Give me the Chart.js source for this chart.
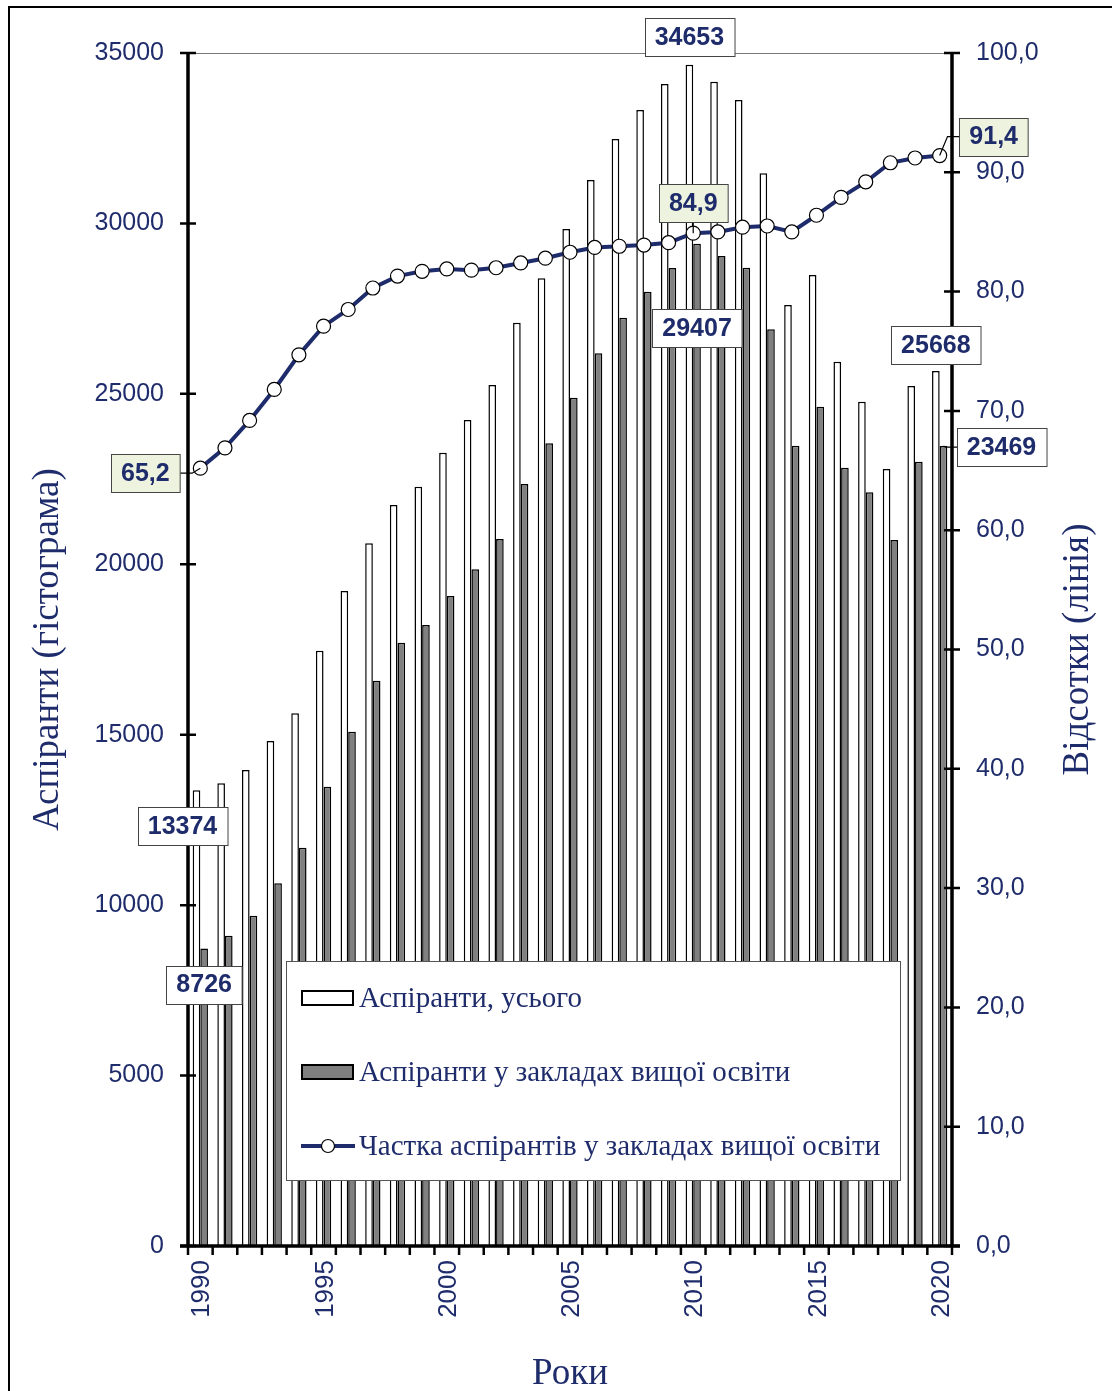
<!DOCTYPE html>
<html>
<head>
<meta charset="utf-8">
<script src="https://cdn.jsdelivr.net/npm/chart.js@4.4.0/dist/chart.umd.min.js"></script>
<style>
  html, body { margin: 0; padding: 0; background: #fff; }
  canvas { display: block; }
</style>
</head>
<body>
<canvas id="chart" width="1112" height="1391"></canvas>
<script>
// Аспіранти в Україні, 1990-2020
const years = [1990, 1991, 1992, 1993, 1994, 1995, 1996, 1997, 1998, 1999,
               2000, 2001, 2002, 2003, 2004, 2005, 2006, 2007, 2008, 2009,
               2010, 2011, 2012, 2013, 2014, 2015, 2016, 2017, 2018, 2019, 2020];

// усього (гістограма, білі стовпці)
const totalStudents = [13374, 13575, 13965, 14815, 15627, 17465, 19216, 20615, 21739, 22277,
                       23274, 24233, 25260, 27088, 28389, 29836, 31274, 32478, 33327, 34090,
                       34653, 34158, 33621, 31470, 27607, 28487, 25943, 24770, 22795, 25230, 25668];

// у закладах вищої освіти (сірі стовпці)
const heiStudents = [8726, 9104, 9690, 10641, 11686, 13475, 15088, 16584, 17700, 18219,
                     19069, 19852, 20741, 22355, 23549, 24887, 26189, 27234, 27997, 28692,
                     29407, 29044, 28701, 26894, 23479, 24624, 22833, 22111, 20712, 23009, 23469];

// частка, % (лінія)
const heiShare = [65.2, 66.9, 69.2, 71.8, 74.7, 77.1, 78.5, 80.3, 81.3, 81.7,
                  81.9, 81.8, 82.0, 82.4, 82.8, 83.3, 83.7, 83.8, 83.9, 84.1,
                  84.9, 85.0, 85.4, 85.5, 85.0, 86.4, 87.9, 89.2, 90.8, 91.2, 91.4];

const NAVY = '#1f2c6b';
const SANS = '"Liberation Sans", Arial, sans-serif';
const SERIF = '"Liberation Serif", "Times New Roman", serif';

// підписи значень: набір, індекс, зсув від точки, заливка
const callouts = [
  { ds: 0, i: 20, dx: 0, dy: -28, fill: '#ffffff' },
  { ds: 1, i: 20, dx: 0, dy: 84, fill: '#ffffff' },
  { ds: 0, i: 0, dx: -14, dy: 36, fill: '#ffffff' },
  { ds: 1, i: 0, dx: 0, dy: 36, fill: '#ffffff' },
  { ds: 0, i: 30, dx: 0, dy: -26, fill: '#ffffff' },
  { ds: 1, i: 30, dx: 58, dy: 1, fill: '#ffffff', leader: true },
  { ds: 2, i: 0, dx: -55, dy: 5, fill: '#eef3df', leader: true },
  { ds: 2, i: 20, dx: 0, dy: -30, fill: '#eef3df', leader: true },
  { ds: 2, i: 30, dx: 54, dy: -19, fill: '#eef3df', leader: true }
];

function fmt(ds, v) {
  return ds === 2 ? v.toFixed(1).replace('.', ',') : String(v);
}

const decorations = {
  id: 'decorations',
  beforeDraw(chart) {
    const ctx = chart.ctx;
    ctx.save();
    ctx.fillStyle = '#fff';
    ctx.fillRect(0, 0, chart.width, chart.height);
    // рамка
    ctx.strokeStyle = '#000';
    ctx.lineWidth = 2;
    ctx.beginPath();
    ctx.moveTo(9, chart.height + 5);
    ctx.lineTo(9, 7);
    ctx.lineTo(chart.width + 5, 7);
    ctx.stroke();
    // права назва осі
    const ca = chart.chartArea;
    ctx.translate(1078, (ca.top + ca.bottom) / 2);
    ctx.rotate(-Math.PI / 2);
    ctx.fillStyle = NAVY;
    ctx.font = '37px ' + SERIF;
    ctx.textAlign = 'center';
    ctx.textBaseline = 'middle';
    ctx.fillText('Відсотки (лінія)', 0, 0);
    ctx.restore();
  },
  beforeDatasetsDraw(chart) {
    const ctx = chart.ctx;
    const { left, right, top } = chart.chartArea;
    ctx.save();
    ctx.strokeStyle = '#777';
    ctx.lineWidth = 1;
    ctx.beginPath();
    ctx.moveTo(left, top + 0.5);
    ctx.lineTo(right, top + 0.5);
    ctx.stroke();
    ctx.restore();
  },
  afterDatasetsDraw(chart) {
    const ctx = chart.ctx;
    const { left, right, top, bottom } = chart.chartArea;
    const sy = chart.scales.y, sy1 = chart.scales.y1, sx = chart.scales.x;
    ctx.save();
    ctx.strokeStyle = '#000';
    ctx.lineCap = 'butt';
    ctx.lineWidth = 3.5;
    ctx.beginPath();
    ctx.moveTo(left, top); ctx.lineTo(left, bottom);
    ctx.moveTo(right, top); ctx.lineTo(right, bottom);
    ctx.moveTo(left - 8, bottom); ctx.lineTo(right + 8, bottom);
    ctx.stroke();
    ctx.lineWidth = 2.5;
    ctx.beginPath();
    sy.ticks.forEach(t => {
      const p = sy.getPixelForValue(t.value);
      ctx.moveTo(left - 8, p); ctx.lineTo(left + 8, p);
    });
    sy1.ticks.forEach(t => {
      const p = sy1.getPixelForValue(t.value);
      ctx.moveTo(right - 8, p); ctx.lineTo(right + 8, p);
    });
    const w = (sx.right - sx.left) / years.length;
    for (let k = 0; k <= years.length; k++) {
      const p = sx.left + k * w;
      ctx.moveTo(p, bottom); ctx.lineTo(p, bottom + 9);
    }
    ctx.stroke();

    // легенда
    const lx = 286, ly = 961, lw = 614, lh = 219;
    ctx.fillStyle = '#fff';
    ctx.fillRect(lx, ly, lw, lh);
    ctx.strokeStyle = '#555';
    ctx.lineWidth = 1;
    ctx.strokeRect(lx + 0.5, ly + 0.5, lw, lh);
    ctx.font = '29px ' + SERIF;
    ctx.textBaseline = 'middle';
    ctx.textAlign = 'left';
    chart.data.datasets.forEach((ds, k) => {
      const cy = ly + 37 + k * 74;
      if (ds.type === 'line') {
        ctx.strokeStyle = ds.borderColor;
        ctx.lineWidth = 4;
        ctx.beginPath();
        ctx.moveTo(301, cy); ctx.lineTo(355, cy);
        ctx.stroke();
        ctx.beginPath();
        ctx.arc(328, cy, 6.5, 0, Math.PI * 2);
        ctx.fillStyle = ds.pointBackgroundColor;
        ctx.fill();
        ctx.strokeStyle = ds.pointBorderColor;
        ctx.lineWidth = 1.2;
        ctx.stroke();
      } else {
        ctx.fillStyle = ds.backgroundColor;
        ctx.fillRect(302, cy - 7, 51, 14);
        ctx.strokeStyle = '#000';
        ctx.lineWidth = 2;
        ctx.strokeRect(302, cy - 7, 51, 14);
      }
      ctx.fillStyle = NAVY;
      ctx.fillText(ds.label, 359, cy + 1);
    });
    ctx.restore();
  },
  afterDraw(chart) {
    const ctx = chart.ctx;
    ctx.save();
    ctx.font = 'bold 25px ' + SANS;
    ctx.textAlign = 'center';
    ctx.textBaseline = 'middle';
    callouts.forEach(c => {
      const el = chart.getDatasetMeta(c.ds).data[c.i];
      const v = chart.data.datasets[c.ds].data[c.i];
      const text = fmt(c.ds, v);
      const bw = ctx.measureText(text).width + 20, bh = 38;
      const cx = el.x + c.dx, cy = el.y + c.dy;
      const bx = Math.round(cx - bw / 2) + 0.5, by = Math.round(cy - bh / 2) + 0.5;
      if (c.leader) {
        ctx.strokeStyle = '#000';
        ctx.lineWidth = 1.2;
        ctx.beginPath();
        if (Math.abs(c.dx) > Math.abs(c.dy)) {
          const edge = c.dx > 0 ? bx : bx + bw;
          const elbow = c.dx > 0 ? edge - 12 : edge + 12;
          ctx.moveTo(el.x, el.y);
          ctx.lineTo(elbow, cy);
          ctx.lineTo(edge, cy);
        } else {
          ctx.moveTo(el.x, el.y);
          ctx.lineTo(el.x, c.dy < 0 ? by + bh : by);
        }
        ctx.stroke();
      }
      ctx.fillStyle = c.fill;
      ctx.fillRect(bx, by, bw, bh);
      ctx.strokeStyle = '#444';
      ctx.lineWidth = 1;
      ctx.strokeRect(bx, by, bw, bh);
      ctx.fillStyle = NAVY;
      ctx.fillText(text, cx, cy + 1);
    });
    ctx.restore();
  }
};

const chart = new Chart(document.getElementById('chart'), {
  type: 'bar',
  data: {
    labels: years,
    datasets: [
      {
        label: 'Аспіранти, усього',
        data: totalStudents,
        backgroundColor: '#ffffff',
        borderColor: '#000000',
        borderWidth: 1.5,
        yAxisID: 'y',
        order: 1,
        categoryPercentage: 0.62,
        barPercentage: 1
      },
      {
        label: 'Аспіранти у закладах вищої освіти',
        data: heiStudents,
        backgroundColor: '#808080',
        borderColor: '#000000',
        borderWidth: 1.5,
        yAxisID: 'y',
        order: 1,
        categoryPercentage: 0.62,
        barPercentage: 1
      },
      {
        type: 'line',
        label: 'Частка аспірантів у закладах вищої освіти',
        data: heiShare,
        borderColor: '#1f2c6b',
        borderWidth: 4,
        pointRadius: 7,
        pointBackgroundColor: '#ffffff',
        pointBorderColor: '#000000',
        pointBorderWidth: 1.2,
        tension: 0,
        yAxisID: 'y1',
        order: 0
      }
    ]
  },
  options: {
    responsive: false,
    animation: false,
    devicePixelRatio: 1,
    layout: { padding: { top: 53, left: 0, right: 0, bottom: 0 } },
    plugins: {
      legend: { display: false },
      tooltip: { enabled: false }
    },
    scales: {
      x: {
        type: 'category',
        offset: true,
        grid: { display: false, drawTicks: false },
        border: { display: false },
        ticks: {
          autoSkip: false,
          minRotation: 90,
          maxRotation: 90,
          padding: 14,
          labelOffset: 2,
          color: NAVY,
          font: { family: SANS, size: 26 },
          callback: (v, i) => (years[i] % 5 === 0 ? String(years[i]) : '')
        },
        title: {
          display: true,
          text: 'Роки',
          color: NAVY,
          font: { family: SERIF, size: 37, lineHeight: 1 },
          padding: { top: 0, bottom: -2 }
        },
        afterFit: s => { s.height = 145; }
      },
      y: {
        position: 'left',
        min: 0,
        max: 35000,
        grid: { display: false, drawTicks: false },
        border: { display: false },
        ticks: {
          stepSize: 5000,
          padding: 24,
          color: NAVY,
          font: { family: SANS, size: 25 },
          callback: v => String(v)
        },
        title: {
          display: true,
          text: 'Аспіранти (гістограма)',
          color: NAVY,
          font: { family: SERIF, size: 37, lineHeight: 1 },
          padding: { top: 30, bottom: 0 }
        },
        afterFit: s => { s.width = 188; }
      },
      y1: {
        position: 'right',
        min: 0,
        max: 100,
        grid: { display: false, drawTicks: false },
        border: { display: false },
        ticks: {
          stepSize: 10,
          padding: 24,
          color: NAVY,
          font: { family: SANS, size: 25 },
          callback: v => v.toFixed(1).replace('.', ',')
        },
        afterFit: s => { s.width = 160; }
      }
    }
  },
  plugins: [decorations]
});
</script>
</body>
</html>
